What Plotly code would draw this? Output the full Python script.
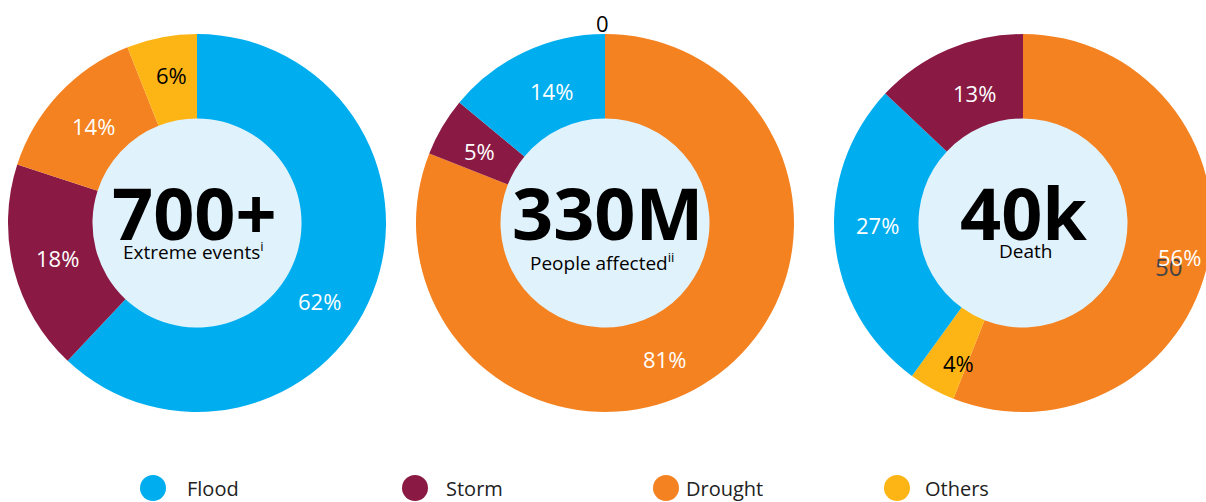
import math
import plotly.graph_objects as go

# Share of each hazard type for the three headline figures
categories = ["Flood", "Storm", "Drought", "Others"]
colors = {"Flood": "#00AEEF", "Storm": "#8A1A44", "Drought": "#F48220", "Others": "#FDB515"}

events_labels = ["Flood", "Storm", "Drought", "Others"]
events_values = [62, 18, 14, 6]

affected_labels = ["Drought", "Storm", "Flood", "Others"]
affected_values = [81, 5, 14, 0]

deaths_labels = ["Drought", "Others", "Flood", "Storm"]
deaths_values = [56, 4, 27, 13]

headline_values = ["700+", "330M", "40k"]
headline_captions = ["Extreme events<sup>i</sup>", "People affected<sup>ii</sup>", "Death"]

# Layout: label placement around each ring (degrees clockwise from 12 o'clock, radius in px)
label_angles = [
    [122.4, 256.1, 313.0, 350.4],
    [156.5, 299.9, 338.1, -0.8],
    [102.1, 204.7, 269.4, 339.3],
]
label_radii = [
    [145.6, 143.7, 142.2, 150.1],
    [148.2, 144.3, 142.2, 200.0],
    [160.0, 154.1, 146.0, 138.5],
]

W, H = 1212, 502
FONT = "Open Sans"
R = 189            # outer radius in px
HOLE = 0.553
CY = 223           # centre y (px from top)
centers_x = [197, 605, 1023]
big_shift = [-3, 2, 0]
cap_shift = [-4, -3, 2]
cap_y = [251, 262, 251]


def px_x(v):
    return v / W


def px_y(v):
    return 1 - v / H


fig = go.Figure()
shapes = []
annotations = []

# stray value tag sitting under the drought label of the deaths donut
annotations.append(dict(
    x=px_x(1168), y=px_y(266), xref="paper", yref="paper", showarrow=False,
    text="50", xanchor="center", yanchor="middle",
    font=dict(family=FONT, size=24, color="#444444"),
))

datasets = [
    (events_labels, events_values),
    (affected_labels, affected_values),
    (deaths_labels, deaths_values),
]

for i, ((labels, values), cx) in enumerate(zip(datasets, centers_x)):
    fig.add_trace(go.Pie(
        labels=labels,
        values=values,
        hole=HOLE,
        sort=False,
        direction="clockwise",
        rotation=0,
        marker=dict(colors=[colors[l] for l in labels], line=dict(width=0)),
        textinfo="none",
        showlegend=False,
        hoverinfo="label+percent",
        domain=dict(x=[px_x(cx - R), px_x(cx + R)], y=[px_y(CY + R), px_y(CY - R)]),
    ))
    # value labels on the ring
    for lab, v, ang, rad in zip(labels, values, label_angles[i], label_radii[i]):
        a = math.radians(ang)
        lx = cx + rad * math.sin(a)
        ly = CY - rad * math.cos(a)
        inside = v > 0
        col = "#000000" if (lab == "Others" or not inside) else "#FFFFFF"
        annotations.append(dict(
            x=px_x(lx), y=px_y(ly), xref="paper", yref="paper", showarrow=False,
            text=f"{v}%" if inside else f"{v}", xanchor="center", yanchor="middle",
            font=dict(family=FONT, size=22, color=col),
        ))

for cx, big, cap, bs, cs, cyy in zip(centers_x, headline_values, headline_captions,
                                      big_shift, cap_shift, cap_y):
    r_in = R * HOLE + 1
    shapes.append(dict(
        type="circle", xref="paper", yref="paper", layer="below",
        x0=px_x(cx - r_in), x1=px_x(cx + r_in), y0=px_y(CY + r_in), y1=px_y(CY - r_in),
        fillcolor="#E0F2FC", line=dict(width=0),
    ))
    annotations.append(dict(
        x=px_x(cx + bs), y=px_y(212), xref="paper", yref="paper", showarrow=False,
        text=f"<b>{big}</b>", xanchor="center", yanchor="middle",
        font=dict(family=FONT, size=72, color="#000000"),
    ))
    annotations.append(dict(
        x=px_x(cx + cs), y=px_y(cyy), xref="paper", yref="paper", showarrow=False,
        text=cap, xanchor="center", yanchor="middle",
        font=dict(family=FONT, size=19, color="#000000"),
    ))

# custom legend with large round swatches
legend_marker_x = [153, 415, 666, 897]
legend_text_x = [185, 444, 684, 923]
LEG_Y = 488
for cat, mx, tx in zip(categories, legend_marker_x, legend_text_x):
    shapes.append(dict(
        type="circle", xref="paper", yref="paper", layer="above",
        x0=px_x(mx - 13), x1=px_x(mx + 13), y0=px_y(LEG_Y + 13), y1=px_y(LEG_Y - 13),
        fillcolor=colors[cat], line=dict(width=0),
    ))
    annotations.append(dict(
        x=px_x(tx), y=px_y(LEG_Y), xref="paper", yref="paper", showarrow=False,
        text=cat, xanchor="left", yanchor="middle",
        font=dict(family=FONT, size=20, color="#222222"),
    ))

fig.update_layout(
    width=W, height=H,
    margin=dict(l=0, r=0, t=0, b=0),
    paper_bgcolor="#FFFFFF",
    plot_bgcolor="#FFFFFF",
    shapes=shapes,
    annotations=annotations,
    font=dict(family=FONT),
)

fig.write_html("out.html")
